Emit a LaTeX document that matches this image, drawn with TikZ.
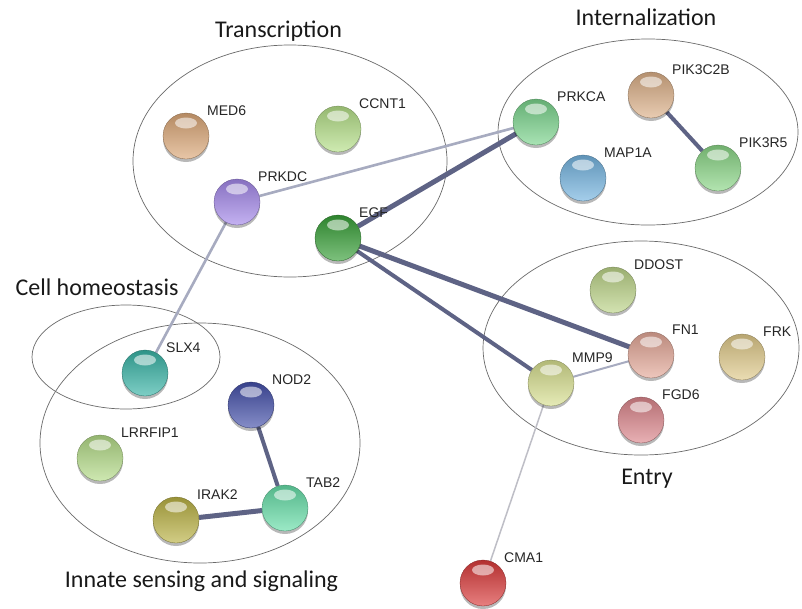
\documentclass[tikz,border=0pt]{standalone}
\usepackage{fontspec}
\setmainfont{Liberation Sans}
\newfontfamily\titlefont{Carlito}
\usetikzlibrary{shadows}
\pgfdeclarelayer{bg}
\pgfdeclarelayer{edges}
\pgfsetlayers{bg,edges,main}
\definecolor{cMED}{HTML}{DCA878}
\definecolor{cCCNT}{HTML}{B5E088}
\definecolor{cPRKDC}{HTML}{A488EA}
\definecolor{cEGF}{HTML}{38A038}
\definecolor{cPRKCA}{HTML}{7AD48C}
\definecolor{cPIKB}{HTML}{DCB088}
\definecolor{cMAP}{HTML}{74B4E0}
\definecolor{cPIKR}{HTML}{8AD686}
\definecolor{cDDOST}{HTML}{BCD488}
\definecolor{cFN}{HTML}{E4A898}
\definecolor{cFRK}{HTML}{E0CA8A}
\definecolor{cMMP}{HTML}{D8E090}
\definecolor{cFGD}{HTML}{DC868C}
\definecolor{cSLX}{HTML}{38B4A6}
\definecolor{cNOD}{HTML}{4450AA}
\definecolor{cLRR}{HTML}{B4DC88}
\definecolor{cTAB}{HTML}{66DEA8}
\definecolor{cIRAK}{HTML}{BAB244}
\definecolor{cCMA}{HTML}{DA3A3A}
\definecolor{edark}{HTML}{5E6385}
\definecolor{elight}{HTML}{A7ABC0}
\definecolor{evlight}{HTML}{BEBEC6}
\definecolor{ringc}{HTML}{6A6A6A}
\tikzset{
  ball/.style={circle, minimum size=46pt, inner sep=0pt,
    draw=#1!60!black, line width=0.3pt,
    top color=#1!82!black, middle color=#1, bottom color=#1!65!white,
    general shadow={shadow yshift=-3pt, fill=black, opacity=0.28},
    path picture={\fill[white, opacity=0.55]
      ([yshift=-10pt]path picture bounding box.north) ellipse (11pt and 5.5pt);}},
  lab/.style={anchor=west, font=\fontsize{14}{16}\selectfont, text=black!85, inner sep=0pt},
  grp/.style={font=\titlefont\fontsize{24}{28}\selectfont, text=black!90, anchor=base, inner sep=0pt},
  ring/.style={draw=ringc, line width=0.7pt},
  strong/.style={draw=edark, line width=#1pt},
  weak/.style={draw=elight, line width=#1pt},
}
\newcommand\prot[5]{%
  \node[ball=#4] (#1) at (#2,#3) {};
  \node[lab] (#1-l) at ([shift={(21,-25)}]#2,#3) {#5};}
\begin{document}
\begin{tikzpicture}[x=1pt,y=-1pt]
\useasboundingbox (0,0) rectangle (802,608);
\begin{pgfonlayer}{bg}
  \fill[white] (0,0) rectangle (802,608);
  \draw[ring] (290,161) ellipse (157 and 116);
  \draw[ring] (648,132) ellipse (150 and 93);
  \draw[ring] (641,348) ellipse (158 and 107);
  \draw[ring] (126,357) ellipse (94 and 52);
  \draw[ring] (200,443) ellipse (160 and 120);
\end{pgfonlayer}
\node[grp] (tTrans) at (278.5,37) {Transcription};
\node[grp] (tInt) at (646,25) {Internalization};
\node[grp] (tCell) at (97,295) {Cell homeostasis};
\node[grp] (tEntry) at (647,484) {Entry};
\node[grp] (tInn) at (201.5,587) {Innate sensing and signaling};

\prot{MED6}{186}{136}{cMED}{MED6}
\prot{CCNT1}{338}{129}{cCCNT}{CCNT1}
\prot{PRKDC}{237}{202}{cPRKDC}{PRKDC}
\prot{EGF}{338}{238}{cEGF}{EGF}
\prot{PRKCA}{536}{122}{cPRKCA}{PRKCA}
\prot{PIK3C2B}{651}{95}{cPIKB}{PIK3C2B}
\prot{MAP1A}{583}{178}{cMAP}{MAP1A}
\prot{PIK3R5}{718}{168}{cPIKR}{PIK3R5}
\prot{DDOST}{613}{290}{cDDOST}{DDOST}
\prot{FN1}{651}{355}{cFN}{FN1}
\prot{FRK}{742}{357}{cFRK}{FRK}
\prot{MMP9}{551}{383}{cMMP}{MMP9}
\prot{FGD6}{641}{420}{cFGD}{FGD6}
\prot{SLX4}{145}{373}{cSLX}{SLX4}
\prot{NOD2}{251}{405}{cNOD}{NOD2}
\prot{LRRFIP1}{100}{458}{cLRR}{LRRFIP1}
\prot{TAB2}{285}{508}{cTAB}{TAB2}
\prot{IRAK2}{176}{520}{cIRAK}{IRAK2}
\prot{CMA1}{483}{583}{cCMA}{CMA1}

\begin{pgfonlayer}{edges}
  \draw[weak=2.6] (PRKDC) -- (PRKCA);
  \draw[weak=2.6] (PRKDC) -- (SLX4);
  \draw[strong=5] (EGF) -- (PRKCA);
  \draw[strong=5] (EGF) -- (FN1);
  \draw[strong=4] (EGF) -- (MMP9);
  \draw[weak=2] (MMP9) -- (FN1);
  \draw[draw=evlight, line width=1.5pt] (MMP9) -- (CMA1);
  \draw[strong=4] (PIK3C2B) -- (PIK3R5);
  \draw[strong=4] (NOD2) -- (TAB2);
  \draw[strong=5] (IRAK2) -- (TAB2);
\end{pgfonlayer}
\end{tikzpicture}
\end{document}
